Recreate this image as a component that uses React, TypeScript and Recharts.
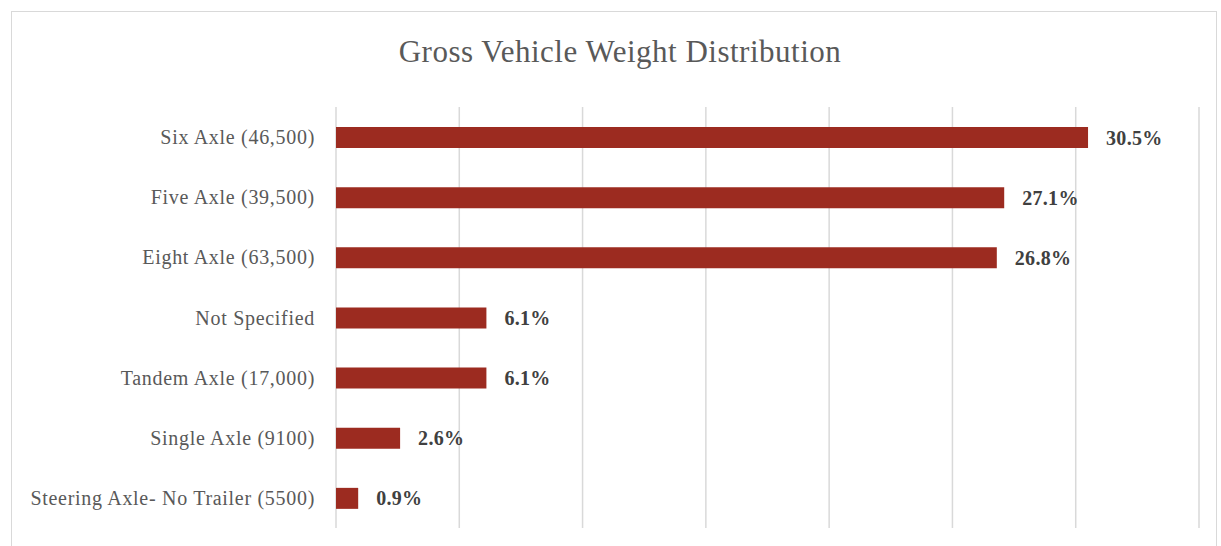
import { BarChart, Bar, XAxis, YAxis, CartesianGrid, LabelList } from 'recharts';

const categories = [
  'Six Axle (46,500)',
  'Five Axle (39,500)',
  'Eight Axle (63,500)',
  'Not Specified',
  'Tandem Axle (17,000)',
  'Single Axle (9100)',
  'Steering Axle- No Trailer (5500)',
];

const shares = [30.5, 27.1, 26.8, 6.1, 6.1, 2.6, 0.9];

const xTicks = [0, 5, 10, 15, 20, 25, 30, 35];

const data = categories.map((name, i) => ({ name, share: shares[i] }));

const serif = '"Liberation Serif", "DejaVu Serif", serif';

export default function App() {
  return (
    <div style={{ position: 'absolute', left: 0, top: 0, width: 1221, height: 546, background: '#fff', overflow: 'hidden' }}>
      <div
        style={{
          position: 'absolute',
          left: 11,
          top: 11,
          width: 1206,
          height: 545,
          border: '1px solid #d9d9d9',
          boxSizing: 'border-box',
        }}
      />
      <div
        style={{
          position: 'absolute',
          left: 0,
          top: 34,
          width: 1240,
          textAlign: 'center',
          fontFamily: serif,
          fontSize: 31,
          letterSpacing: 0.5,
          color: '#595959',
        }}
      >
        Gross Vehicle Weight Distribution
      </div>
      <div style={{ position: 'absolute', left: 0, top: 0 }}>
        <BarChart
          width={1221}
          height={546}
          data={data}
          layout="vertical"
          margin={{ top: 107, right: 22, bottom: 18, left: 16 }}
          barSize={21}
        >
          <CartesianGrid horizontal={false} stroke="#d9d9d9" strokeWidth={1.5} />
          <XAxis
            type="number"
            domain={[0, 35]}
            ticks={xTicks}
            interval={0}
            tick={{ fill: 'transparent', fontSize: 1 }}
            axisLine={false}
            tickLine={false}
            height={0}
          />
          <YAxis
            type="category"
            dataKey="name"
            width={320}
            axisLine={false}
            tickLine={false}
            tickMargin={15}
            tick={{ fill: '#595959', fontSize: 20, letterSpacing: 0.7, fontFamily: serif }}
          />
          <Bar dataKey="share" fill="#9c2b20" isAnimationActive={false}>
            <LabelList
              dataKey="share"
              position="right"
              offset={18}
              formatter={(v: number) => `${v.toFixed(1)}%`}
              style={{ fill: '#404040', fontSize: 20, fontWeight: 'bold', letterSpacing: 0.3, fontFamily: serif }}
            />
          </Bar>
        </BarChart>
      </div>
    </div>
  );
}
